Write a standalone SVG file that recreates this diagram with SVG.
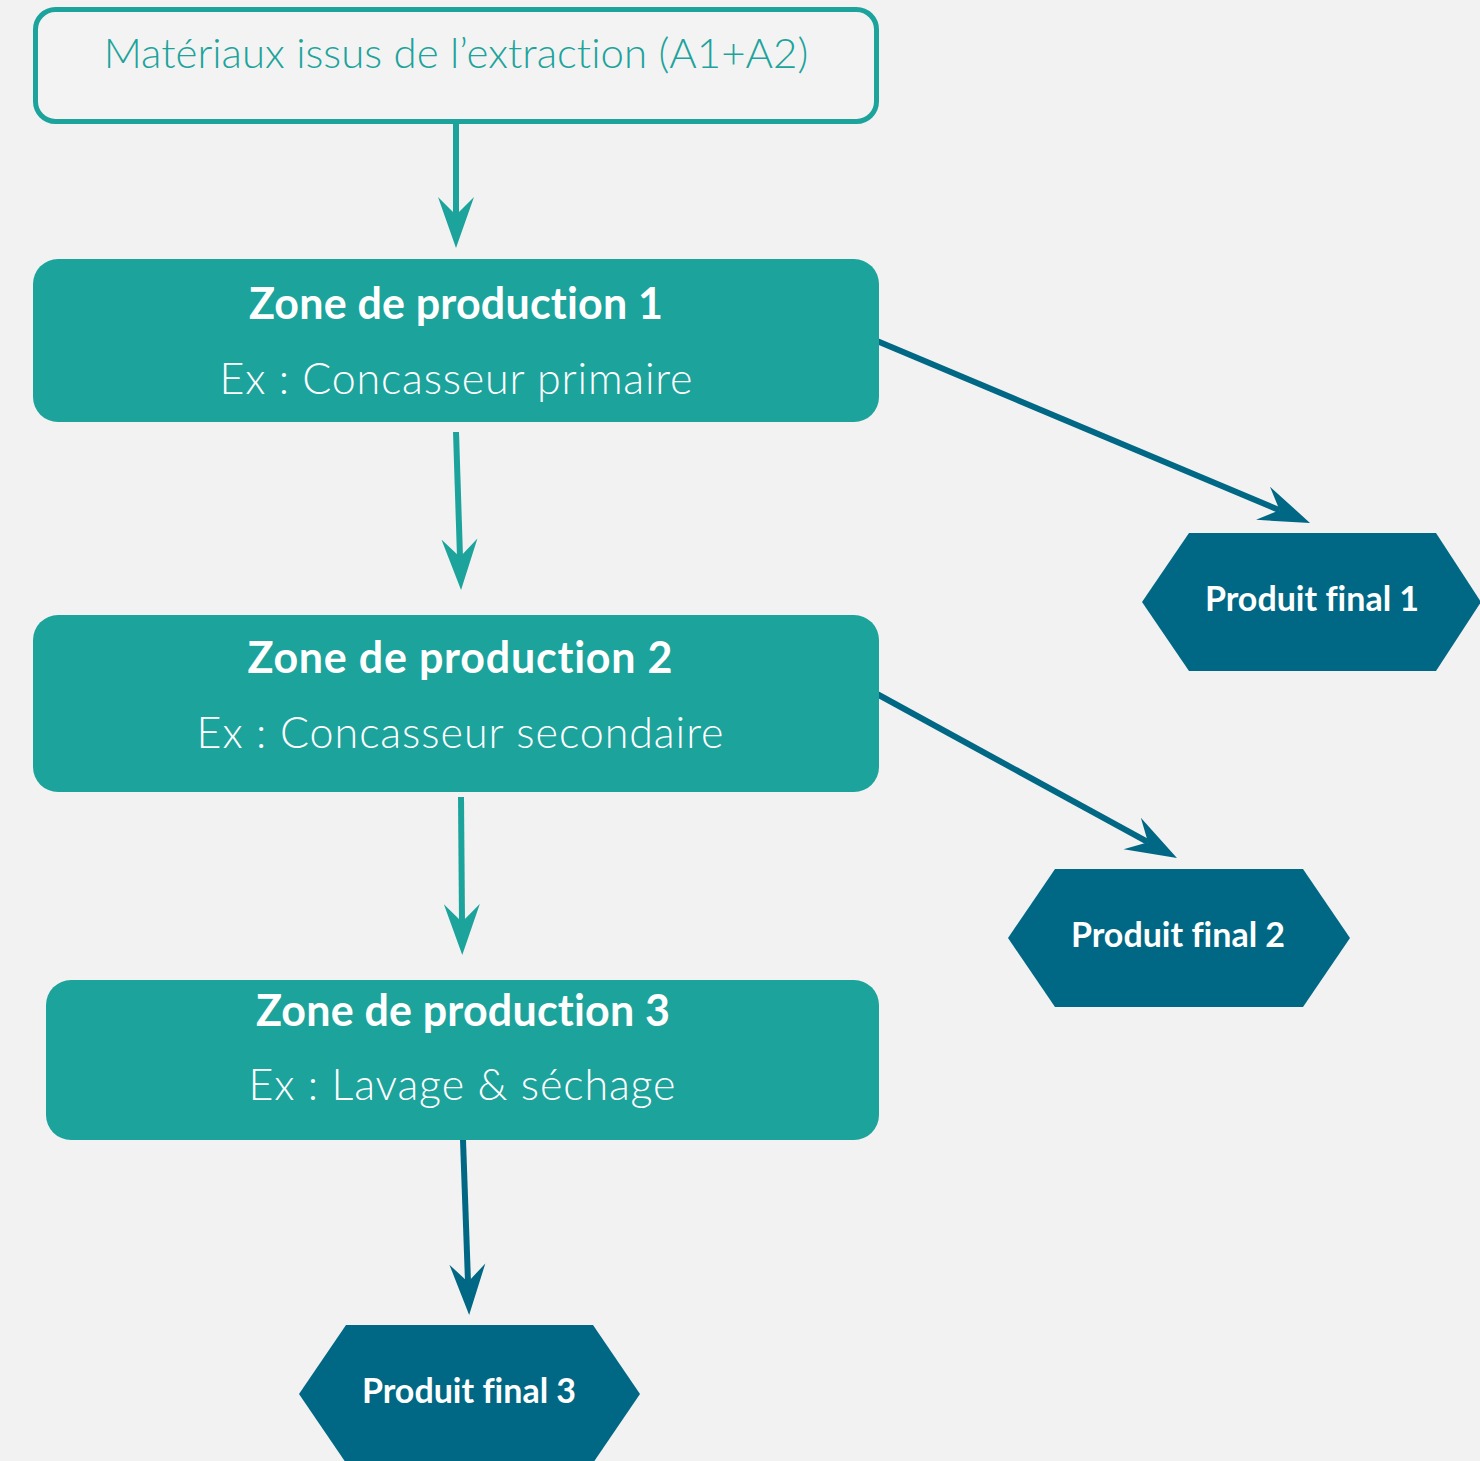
<svg xmlns="http://www.w3.org/2000/svg" width="1480" height="1461" viewBox="0 0 1480 1461">
<defs>
<style>
.bg{fill:#F2F2F2}
.zone{fill:#1CA39B}
.hex{fill:#006884}
.t{font-family:Lato,"Open Sans","Liberation Sans",sans-serif;text-anchor:middle;font-variant-ligatures:none;font-feature-settings:"liga" 0,"dlig" 0}
.light{font-weight:300;font-size:43px;fill:#FFFFFF}
.bold{font-weight:700;font-size:43px;fill:#FFFFFF}
.pf{font-weight:700;font-size:34px;fill:#FFFFFF}
.c1{stroke:#1CA39B;stroke-width:6;fill:none}
.c2{stroke:#006884;stroke-width:6;fill:none}
</style>
<marker id="ah1" markerUnits="userSpaceOnUse" markerWidth="60" markerHeight="40" viewBox="0 -20 60 40" refX="18" refY="0" orient="auto">
<path d="M51,0 L0,-18 L18,0 L0,18 Z" fill="#1CA39B"/>
</marker>
<marker id="ah2" markerUnits="userSpaceOnUse" markerWidth="60" markerHeight="40" viewBox="0 -20 60 40" refX="18" refY="0" orient="auto">
<path d="M51,0 L0,-18 L18,0 L0,18 Z" fill="#006884"/>
</marker>
</defs>
<rect class="bg" x="0" y="0" width="1480" height="1461"/>
<g id="connectors">
<line class="c1" x1="456" y1="122" x2="456" y2="215" marker-end="url(#ah1)"/>
<line class="c1" x1="456" y1="432" x2="460" y2="557" marker-end="url(#ah1)"/>
<line class="c1" x1="461" y1="797" x2="462" y2="922" marker-end="url(#ah1)"/>
<line class="c2" x1="463" y1="1140" x2="468" y2="1282" marker-end="url(#ah2)"/>
<line class="c2" x1="877" y1="341" x2="1279.6" y2="510.2" marker-end="url(#ah2)"/>
<line class="c2" x1="877" y1="694" x2="1148" y2="842.2" marker-end="url(#ah2)"/>
</g>
<g id="source">
<rect x="35.5" y="9.5" width="841" height="112" rx="20" fill="#F3F3F3" stroke="#1CA39B" stroke-width="5"/>
<text class="t" x="456" y="68" font-weight="300" font-size="42" fill="#1CA39B">Matériaux issus de l’extraction (A1+A2)</text>
</g>
<g id="zone1">
<rect class="zone" x="33" y="259" width="846" height="163" rx="25"/>
<text class="t bold" x="456" y="319" textLength="414" lengthAdjust="spacing">Zone de production 1</text>
<text class="t light" x="456" y="394" textLength="473" lengthAdjust="spacing">Ex : Concasseur primaire</text>
</g>
<g id="zone2">
<rect class="zone" x="33" y="615" width="846" height="177" rx="25"/>
<text class="t bold" x="460" y="673" textLength="425" lengthAdjust="spacing">Zone de production 2</text>
<text class="t light" x="460" y="748" textLength="527" lengthAdjust="spacing">Ex : Concasseur secondaire</text>
</g>
<g id="zone3">
<rect class="zone" x="46" y="980" width="833" height="160" rx="25"/>
<text class="t bold" x="463" y="1026" textLength="414" lengthAdjust="spacing">Zone de production 3</text>
<text class="t light" x="462" y="1100" textLength="427" lengthAdjust="spacing">Ex : Lavage &amp; séchage</text>
</g>
<g id="final1">
<polygon class="hex" points="1142,602 1189,533 1436,533 1481,602 1436,671 1189,671"/>
<text class="t pf" x="1312" y="611">Produit final 1</text>
</g>
<g id="final2">
<polygon class="hex" points="1008,938 1055,869 1303,869 1350,938 1303,1007 1055,1007"/>
<text class="t pf" x="1178" y="947">Produit final 2</text>
</g>
<g id="final3">
<polygon class="hex" points="299,1394 346,1325 593,1325 640,1394 593,1463 346,1463"/>
<text class="t pf" x="469" y="1403">Produit final 3</text>
</g>
</svg>
